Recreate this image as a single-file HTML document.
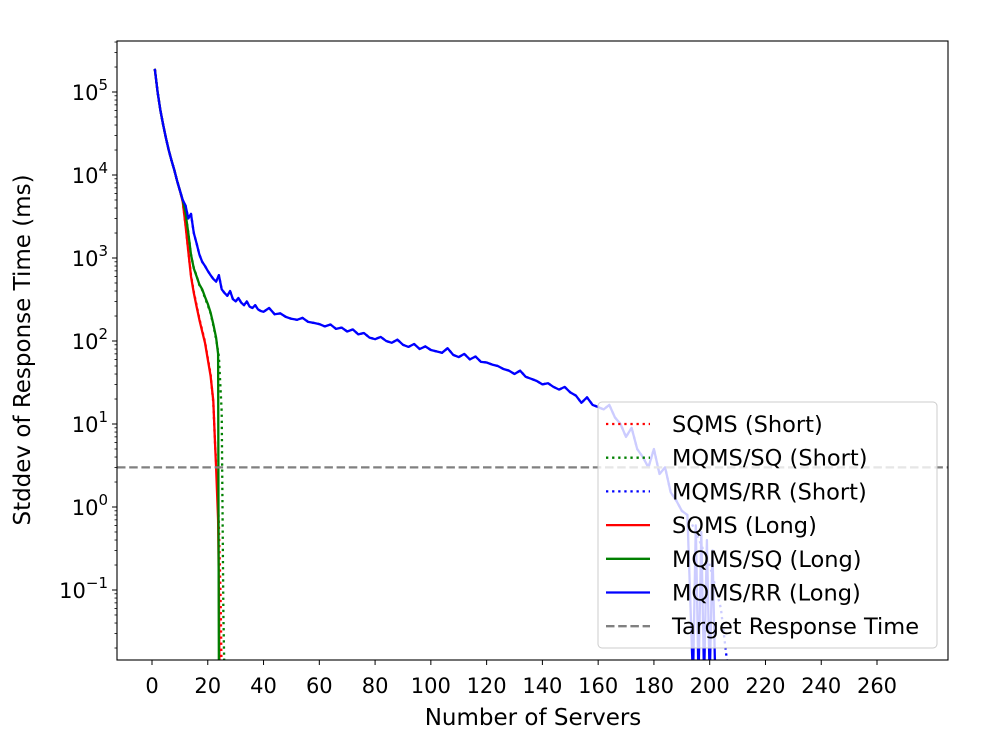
<!DOCTYPE html>
<html><head><meta charset="utf-8"><style>
body{margin:0;background:#fff}
svg text{font-family:"DejaVu Sans","Liberation Sans",sans-serif;fill:#000}
</style></head><body>
<svg id="chart" width="981" height="737" xmlns="http://www.w3.org/2000/svg">
<defs><clipPath id="clip"><rect x="117" y="41" width="831" height="619"/></clipPath></defs>
<rect x="0" y="0" width="981" height="737" fill="#fff"/>
<g id="lines" clip-path="url(#clip)"></g>
<g id="axes"></g>
<g id="legend"></g>
</svg>
<script>
const head=[1,2,3,4,5,6,7,8,9,10];
const headY=[190000,100000,60000,40000,28000,20000,15000,11500,8500,6500];
const blueLongX=head.concat([11,12,13,14,15,16,17,18,19,20,21,22,23,24,25,26,27,28,29,30,31,32,33,34,35,36,37,38,39,40,42,44,46,48,50,52,54,56,58,60,62,64,66,68,70,72,74,76,78,80,82,84,86,88,90,92,94,96,98,100,102,104,106,108,110,112,114,116,118,120,122,124,126,128,130,132,134,136,138,140,142,144,146,148,150,152,154,156,158,160,162,164,166,168,170,172,174,176,178,180,182,184,186,188,190,192,194,195,196,197,198,199,200,201,202]);
const blueLongY=headY.concat([5000,4300,3000,3400,2000,1500,1100,900,800,700,620,560,520,620,420,380,350,400,320,300,330,290,270,300,260,250,270,240,230,225,250,210,215,195,185,180,190,170,165,160,150,158,140,145,130,138,120,125,110,105,112,100,95,104,90,85,92,80,86,78,75,72,82,68,64,70,60,65,56,55,52,50,46,44,40,44,37,35,33,30,31,28,26,28,24,22,18,21,17,16,15,17,12,10,7,9,5,4,3,5,2.5,3,1.5,1.2,0.9,0.8,0,0.6,0,0.5,0,0.4,0,0.3,0]);
const blueShortX=blueLongX.slice(0,blueLongX.indexOf(190)+1).concat([192,195,200,204,207]);
const blueShortY=blueLongY.slice(0,blueLongX.indexOf(190)+1).concat([0.8,0.5,0.2,0.06,0]);
const redLongX=head.concat([11,12,13,14,15,16,17,18,19,20,21,22,22.6,23,23.7,24,24.2]);
const redLongY=headY.concat([4800,2500,1200,600,380,260,180,130,95,60,38,19,6,3,0.7,0.1,0]);
const redShortX=head.concat([11,12,13,14,15,16,17,18,19,20,21,22,22.6,23.2,24,24.6,25]);
const redShortY=headY.concat([4800,2500,1200,620,390,270,185,135,98,62,40,18,6,2.6,0.6,0.08,0]);
const greenLongX=head.concat([11,12,13,14,15,16,17,18,19,20,21,22,23,23.7,23.9,24]);
const greenLongY=headY.concat([5000,3500,2000,1100,750,600,480,420,340,280,220,160,110,70,0.3,0]);
const greenShortX=head.concat([11,12,13,14,15,16,17,18,19,20,21,22,23,24,25,25.6,26]);
const greenShortY=headY.concat([5000,3500,2000,1100,760,610,470,410,330,270,215,155,105,65,14,0.05,0]);
const xTicks=[0,20,40,60,80,100,120,140,160,180,200,220,240,260];
const yTickExp=[-1,0,1,2,3,4,5];
const target=3;
const legendLabels=["SQMS (Short)","MQMS/SQ (Short)","MQMS/RR (Short)","SQMS (Long)","MQMS/SQ (Long)","MQMS/RR (Long)","Target Response Time"];

const NS="http://www.w3.org/2000/svg";
const L=117,R=948,T=41,B=660;
const xs=v=>152+(v)*55.77/20;
const ys=v=>v<=0?B+20:92-(Math.log10(v)-5)*83;
function mk(tag,attrs,parent){const e=document.createElementNS(NS,tag);for(const k in attrs)e.setAttribute(k,attrs[k]);parent.appendChild(e);return e;}
const lines=document.getElementById('lines'),axes=document.getElementById('axes'),leg=document.getElementById('legend');
function series(X,Y,color,dash,name){
  const d=X.map((x,i)=>(i?'L':'M')+xs(x).toFixed(1)+','+ys(Y[i]).toFixed(1)).join('');
  const p=mk('path',{d:d,fill:'none',stroke:color,'stroke-width':2.3,'stroke-dasharray':dash,'stroke-linejoin':'round'},lines);
  
  
}
series(redShortX,redShortY,'#ff0000','2.3,3.8','sqms-short-line');
series(greenShortX,greenShortY,'#008000','2.3,3.8','mqms-sq-short-line');
series(blueShortX,blueShortY,'#0000ff','2.3,3.8','mqms-rr-short-line');
series(redLongX,redLongY,'#ff0000','none','sqms-long-line');
series(greenLongX,greenLongY,'#008000','none','mqms-sq-long-line');
series(blueLongX,blueLongY,'#0000ff','none','mqms-rr-long-line');
const tl=mk('line',{x1:L,x2:R,y1:ys(target),y2:ys(target),stroke:'#808080','stroke-width':2.3,'stroke-dasharray':'8.5,3.7'},lines);



const fr=mk('rect',{x:L,y:T,width:R-L,height:B-T,fill:'none',stroke:'#000','stroke-width':1.1},axes);


xTicks.forEach(t=>{
  const x=xs(t);
  mk('line',{x1:x,x2:x,y1:B,y2:B+5,stroke:'#000','stroke-width':1},axes);
  const tx=mk('text',{x:x,y:B+33,'text-anchor':'middle','font-size':21},axes);
  tx.textContent=t;
  
  
});
yTickExp.forEach(e=>{
  const y=ys(Math.pow(10,e));
  mk('line',{x1:L-5,x2:L,y1:y,y2:y,stroke:'#000','stroke-width':1},axes);
  const tx=mk('text',{x:L-9,y:y+8,'text-anchor':'end','font-size':21},axes);
  tx.innerHTML='10<tspan dy="-10" font-size="15">'+(e<0?'\u2212'+(-e):e)+'</tspan>';
  
  
});
for(let e=-2;e<=5;e++)for(let m=2;m<=9;m++){
  const y=ys(m*Math.pow(10,e));
  if(y>T&&y<B)mk('line',{x1:L-2.5,x2:L,y1:y,y2:y,stroke:'#000','stroke-width':0.8},axes);
}
const xl=mk('text',{x:533,y:725,'text-anchor':'middle','font-size':23},axes);
xl.textContent='Number of Servers';


const yl=mk('text',{x:0,y:0,'text-anchor':'middle','font-size':23,transform:'translate(30,350) rotate(-90)'},axes);
yl.textContent='Stddev of Response Time (ms)';



const lb=mk('rect',{x:598,y:402,width:339,height:246,rx:4,fill:'#fff','fill-opacity':0.8,stroke:'#cccccc','stroke-width':1},leg);


const lc=['#ff0000','#008000','#0000ff','#ff0000','#008000','#0000ff','#808080'];
const ld=['2.3,3.8','2.3,3.8','2.3,3.8','none','none','none','8.5,3.7'];
legendLabels.forEach((s,i)=>{
  const y=424+i*33.7;
  const g=mk('g',{},leg);
  
  
  mk('line',{x1:606,x2:650,y1:y,y2:y,stroke:lc[i],'stroke-width':2.3,'stroke-dasharray':ld[i]},g);
  const t=mk('text',{x:672,y:y+8,'font-size':22.5},g);
  t.textContent=s;
});
</script>
</body></html>
